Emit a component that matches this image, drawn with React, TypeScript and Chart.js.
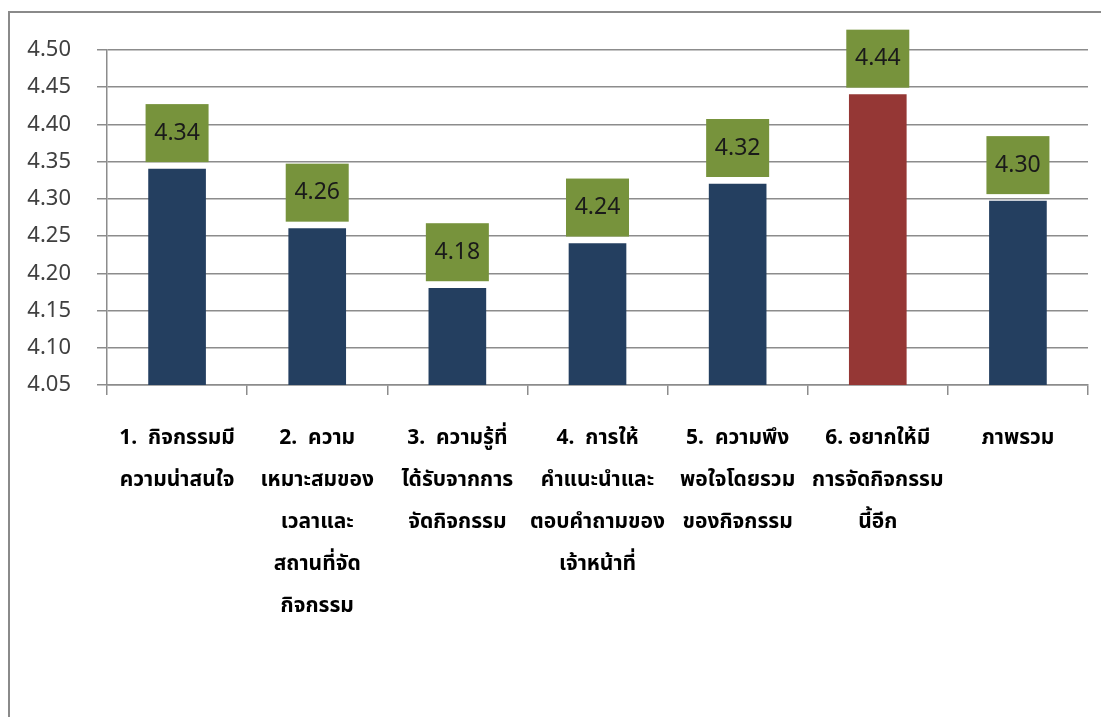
import React, { useEffect, useRef } from "react";
import { Chart, registerables } from "chart.js";

Chart.register(...registerables);

const categories: string[][] = [
  ["1.  กิจกรรมมี", "ความน่าสนใจ"],
  ["2.  ความ", "เหมาะสมของ", "เวลาและ", "สถานที่จัด", "กิจกรรม"],
  ["3.  ความรู้ที่", "ได้รับจากการ", "จัดกิจกรรม"],
  ["4.  การให้", "คำแนะนำและ", "ตอบคำถามของ", "เจ้าหน้าที่"],
  ["5.  ความพึง", "พอใจโดยรวม", "ของกิจกรรม"],
  ["6. อยากให้มี", "การจัดกิจกรรม", "นี้อีก"],
  ["ภาพรวม"],
];
const values: number[] = [4.34, 4.26, 4.18, 4.24, 4.32, 4.44, 4.297];
const barColors: string[] = ["#243F60", "#243F60", "#243F60", "#243F60", "#243F60", "#953735", "#243F60"];
const yMin = 4.05;
const yMax = 4.5;
const yStep = 0.05;

const FONT = "'Noto Sans', 'Noto Sans Thai', 'DejaVu Sans', sans-serif";

const labelBoxes = {
  id: "labelBoxes",
  afterDatasetsDraw(chart: any) {
    const ctx = chart.ctx;
    const meta = chart.getDatasetMeta(0);
    meta.data.forEach((bar: any, i: number) => {
      const w = 63;
      const h = 58;
      const x = bar.x - w / 2;
      const y = bar.y - 7 - h;
      ctx.save();
      ctx.fillStyle = "#77933C";
      ctx.fillRect(x, y, w, h);
      ctx.fillStyle = "#1a1a1a";
      ctx.font = `23px ${FONT}`;
      ctx.textAlign = "center";
      ctx.textBaseline = "middle";
      ctx.fillText(values[i].toFixed(2), bar.x, y + h / 2);
      ctx.restore();
    });
  },
};

export default function App() {
  const ref = useRef<HTMLCanvasElement>(null);
  useEffect(() => {
    const chart = new Chart(ref.current!, {
      type: "bar",
      data: {
        labels: categories,
        datasets: [
          {
            data: values,
            backgroundColor: barColors,
            barThickness: 57,
          },
        ],
      },
      options: {
        animation: false,
        responsive: false,
        layout: { padding: { top: 50, right: 13, left: 0, bottom: 0 } },
        plugins: { legend: { display: false }, tooltip: { enabled: false } },
        scales: {
          x: {
            offset: true,
            grid: {
              offset: true,
              drawOnChartArea: false,
              color: "#8C8C8C",
              lineWidth: 1.5,
              tickLength: 10,
            },
            border: { color: "#8C8C8C", width: 1.5 },
            ticks: {
              maxRotation: 0,
              autoSkip: false,
              padding: 22,
              color: "#000",
              font: { family: FONT, size: 21, weight: "bold", lineHeight: 2.0 },
            },
            afterFit: (s: any) => {
              s.height = 332;
            },
          },
          y: {
            min: yMin,
            max: yMax,
            ticks: {
              stepSize: yStep,
              padding: 26,
              color: "#404040",
              font: { family: FONT, size: 22 },
              callback: (v: any) => Number(v).toFixed(2),
            },
            grid: { color: "#8C8C8C", lineWidth: 1.5, tickLength: 10 },
            border: { color: "#8C8C8C", width: 1.5 },
            afterFit: (s: any) => {
              s.width = 107;
            },
          },
        },
      },
      plugins: [labelBoxes],
    });
    return () => chart.destroy();
  }, []);

  return (
    <div style={{ position: "fixed", left: 0, top: 0, width: 1101, height: 717, overflow: "hidden", background: "#fff" }}>
      <div
        style={{
          position: "absolute",
          left: 8,
          top: 11,
          width: 1200,
          height: 800,
          border: "2px solid #8A8A8A",
        }}
      />
      <canvas ref={ref} width={1101} height={717} style={{ position: "absolute", left: 0, top: 0 }} />
    </div>
  );
}
